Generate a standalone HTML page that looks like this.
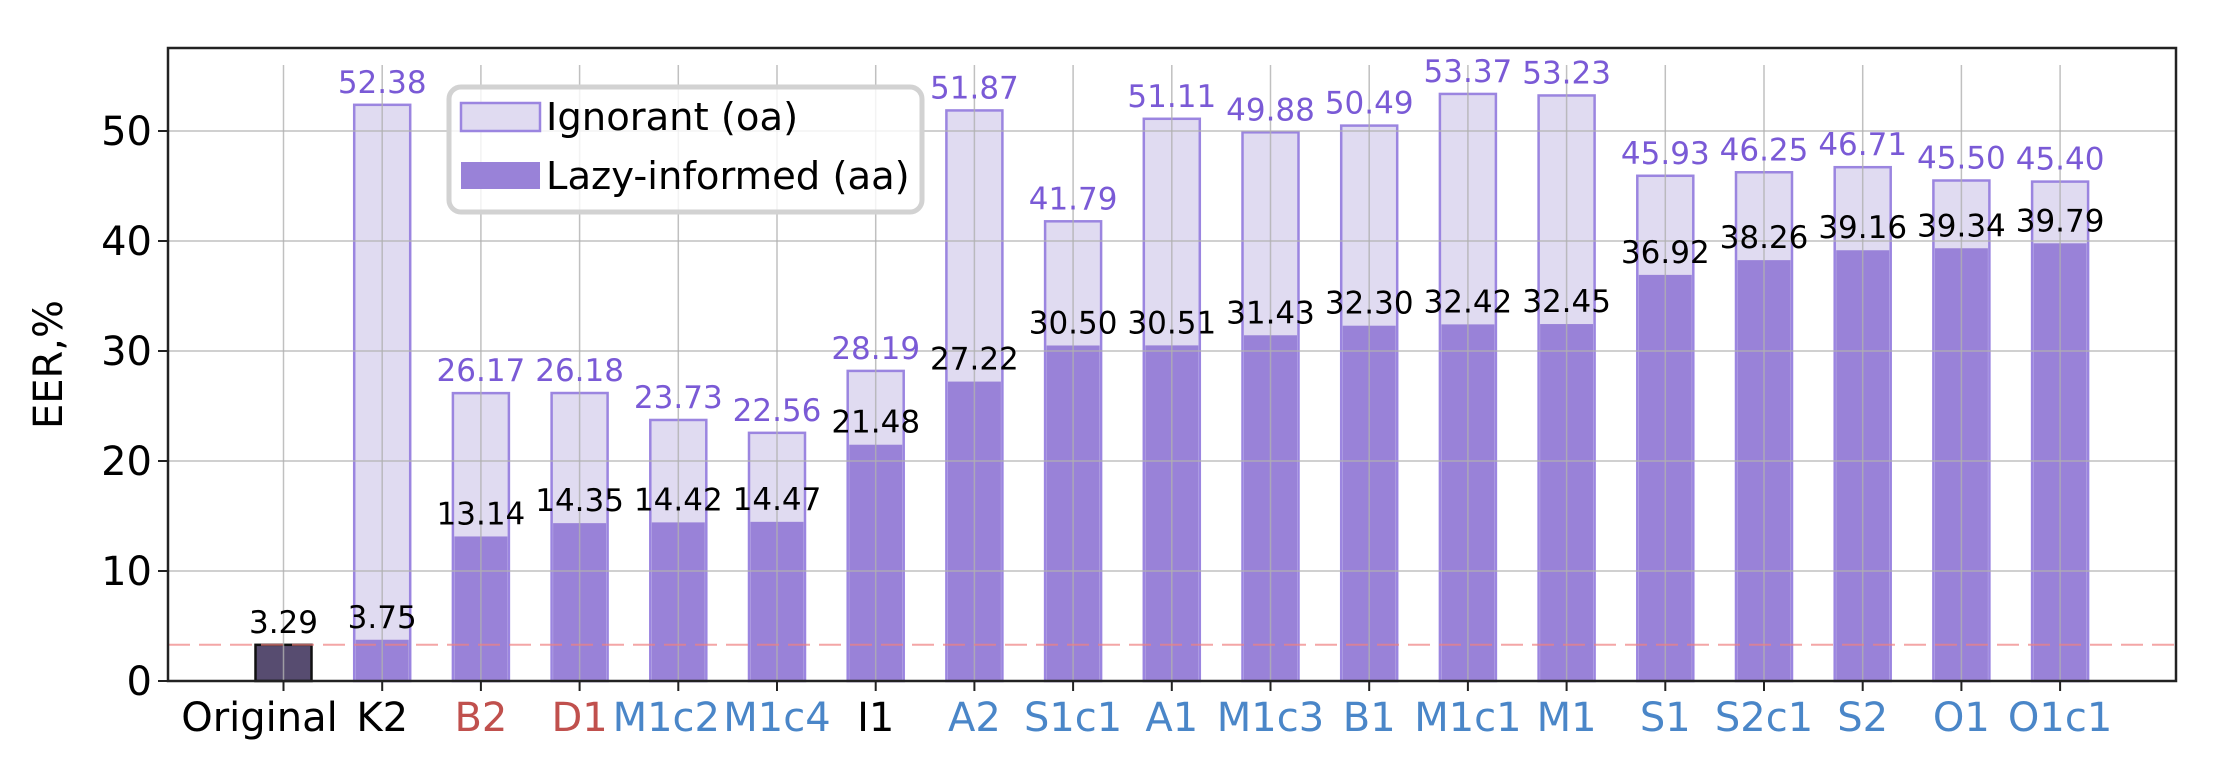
<!DOCTYPE html>
<html><head><meta charset="utf-8"><style>
html,body{margin:0;padding:0;background:#fff;}
svg{display:block;font-family:"DejaVu Sans","Liberation Sans",sans-serif;}
</style></head><body>
<svg id="chart" width="2230" height="768" viewBox="0 0 2230 768"></svg>
<script>
const categories = ["Original","K2","B2","D1","M1c2","M1c4","I1","A2","S1c1","A1","M1c3","B1","M1c1","M1","S1","S2c1","S2","O1","O1c1"];
const ignorantValues = [null,52.38,26.17,26.18,23.73,22.56,28.19,51.87,41.79,51.11,49.88,50.49,53.37,53.23,45.93,46.25,46.71,45.50,45.40];
const lazyValues = [3.29,3.75,13.14,14.35,14.42,14.47,21.48,27.22,30.50,30.51,31.43,32.30,32.42,32.45,36.92,38.26,39.16,39.34,39.79];
const labelGroups = ["k","k","r","r","b","b","k","b","b","b","b","b","b","b","b","b","b","b","b"];
const yTicks = [0,10,20,30,40,50];
const baselineValue = 3.29;

const NS="http://www.w3.org/2000/svg";
const svg=document.getElementById('chart');
const L=168,R=2176,T=48,B=681;
const x0=283.5,step=98.7,bw=56;
function xs(i){return x0+i*step;}
function ys(v){return B-v*11.0;}
function mk(tag,attrs,parent){const e=document.createElementNS(NS,tag);for(const k in attrs)e.setAttribute(k,attrs[k]);(parent||svg).appendChild(e);return e;}
const labelColor={k:"#000",r:"#c0504d",b:"#4a86c8"};
const labelShift={"Original":-24,"M1c2":-12};

categories.forEach((c,i)=>{
  const cx=xs(i);
  if(ignorantValues[i]!==null){
    const v=ignorantValues[i];
    const r=mk('rect',{x:cx-bw/2,y:ys(v),width:bw,height:ys(0)-ys(v),fill:"#e0dbf1",stroke:"#9b85e0","stroke-width":2.5});
    
    
  }
  const a=lazyValues[i];
  const isOrig=ignorantValues[i]===null;
  const r2=mk('rect',{x:cx-bw/2+(isOrig?0:1.5),y:ys(a),width:bw-(isOrig?0:3),height:ys(0)-ys(a),fill:isOrig?"#574c70":"#9982d8",stroke:isOrig?"#111":"none","stroke-width":isOrig?2.5:0});
  
  
});

yTicks.forEach(t=>{
  const g=mk('line',{x1:L,x2:R,y1:ys(t),y2:ys(t),stroke:"#b0b0b0","stroke-width":1.5,"stroke-opacity":0.8});
  
  
});
categories.forEach((c,i)=>{
  const g=mk('line',{x1:xs(i),x2:xs(i),y1:ys(56),y2:B,stroke:"#b0b0b0","stroke-width":1.5,"stroke-opacity":0.8});
  
  
});

const bl=mk('line',{x1:L,x2:R,y1:ys(baselineValue),y2:ys(baselineValue),stroke:"#f08080","stroke-opacity":0.7,"stroke-width":2,"stroke-dasharray":"22,9"});



categories.forEach((c,i)=>{
  const cx=xs(i);
  if(ignorantValues[i]!==null){
    const t=mk('text',{x:cx,y:ys(ignorantValues[i])-12,"text-anchor":"middle","font-size":31,fill:"#7a5ad6"});
    t.textContent=ignorantValues[i].toFixed(2);
    
    
  }
  const t2=mk('text',{x:cx,y:ys(lazyValues[i])-12,"text-anchor":"middle","font-size":31,fill:"#000"});
  t2.textContent=lazyValues[i].toFixed(2);
  
  
});

const fr=mk('rect',{x:L,y:T,width:R-L,height:B-T,fill:"none",stroke:"#222","stroke-width":2.5});



yTicks.forEach(t=>{
  const tk=mk('line',{x1:L-10,x2:L,y1:ys(t),y2:ys(t),stroke:"#222","stroke-width":2});
  
  
  const lb=mk('text',{x:L-16,y:ys(t)+14,"text-anchor":"end","font-size":40,fill:"#000"});
  lb.textContent=t;
  
  
});
categories.forEach((c,i)=>{
  const tk=mk('line',{x1:xs(i),x2:xs(i),y1:B,y2:B+10,stroke:"#222","stroke-width":2});
  
  
  const lb=mk('text',{x:xs(i)+(labelShift[c]||0),y:731,"text-anchor":"middle","font-size":40,fill:labelColor[labelGroups[i]]});
  lb.textContent=c;
  
  
});

const yl=mk('text',{x:0,y:0,"text-anchor":"middle","font-size":40,fill:"#000",transform:"translate(62,"+((T+B)/2)+") rotate(-90)"});
yl.textContent="EER,%";



const lg=mk('g',{});


mk('rect',{x:449,y:87,width:473,height:125,rx:12,fill:"#fff","fill-opacity":0.8,stroke:"#d2d2d2","stroke-width":5},lg);
const p1=mk('rect',{x:461,y:103,width:79,height:28,fill:"#e0dbf1",stroke:"#9b85e0","stroke-width":2.5},lg);


const t1=mk('text',{x:546,y:130,"font-size":38.5,fill:"#000"},lg);
t1.textContent="Ignorant (oa)";


const p2=mk('rect',{x:461,y:162,width:79,height:27,fill:"#9982d8"},lg);


const t2=mk('text',{x:546,y:189,"font-size":38.5,fill:"#000"},lg);
t2.textContent="Lazy-informed (aa)";


</script>
</body></html>
